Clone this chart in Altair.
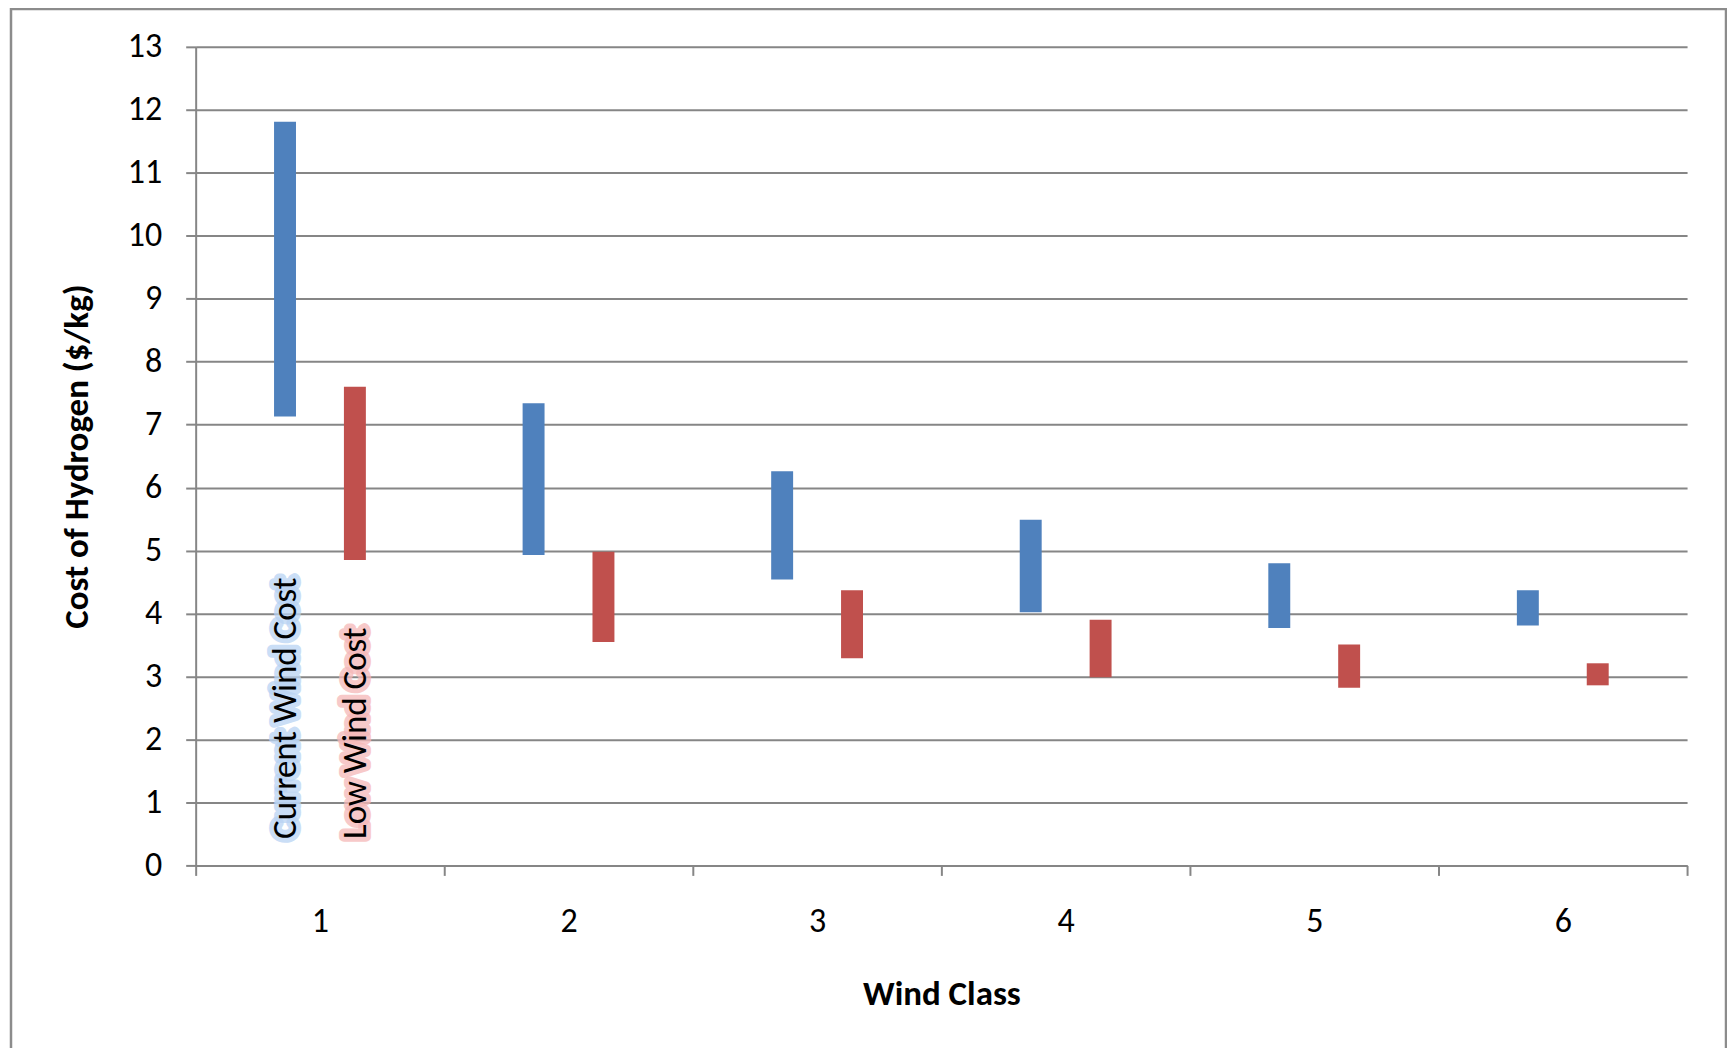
import altair as alt
import pandas as pd

# ---- data ----
wind_class = ["1", "2", "3", "4", "5", "6"]
current_low = [7.13, 4.93, 4.54, 4.02, 3.77, 3.81]
current_high = [11.81, 7.34, 6.26, 5.49, 4.80, 4.37]
lowcost_low = [4.85, 3.55, 3.29, 2.99, 2.82, 2.86]
lowcost_high = [7.60, 4.98, 4.37, 3.90, 3.51, 3.21]
series_names = ["Current Wind Cost", "Low Wind Cost"]
y_ticks = list(range(0, 14))
label_start = [0.42, 0.42]

# ---- styles ----
series_colors = ["#4F81BD", "#C0504D"]
glow_colors = ["#B9D3F3", "#F5B8B8"]
FONT = "Carlito, Lato, sans-serif"
GRAY = "#868686"
# empty slots on each side of the two series inside a class band (spacing only)
offset_slots = ["_left"] + series_names + ["_right"]

rows = []
for i, c in enumerate(wind_class):
    rows.append({"wclass": c, "series": series_names[0], "low": current_low[i], "high": current_high[i]})
    rows.append({"wclass": c, "series": series_names[1], "low": lowcost_low[i], "high": lowcost_high[i]})
df = pd.DataFrame(rows)

labels = pd.DataFrame({"wclass": [wind_class[0]] * 2, "series": series_names, "pos": label_start})

x_enc = alt.X(
    "wclass:N",
    scale=alt.Scale(domain=wind_class, paddingInner=0, paddingOuter=0),
    axis=alt.Axis(
        title="Wind Class", labelAngle=0, tickBand="extent",
        domainColor=GRAY, domainWidth=2, tickColor=GRAY, tickWidth=2, tickSize=10,
        labelFontSize=34, labelPadding=29, labelColor="#000000",
        titleFontSize=35, titleFontWeight="bold", titlePadding=38, titleColor="#000000",
        grid=False,
    ),
)
xoff_enc = alt.XOffset(
    "series:N",
    scale=alt.Scale(domain=offset_slots, paddingInner=0.686, paddingOuter=0.1215),
)
y_scale = alt.Scale(domain=[0, 13], nice=False, zero=True)
y_axis = alt.Axis(
    values=y_ticks, title="Cost of Hydrogen ($/kg)", format="d",
    grid=True, gridColor=GRAY, gridWidth=2,
    domainColor=GRAY, domainWidth=2, tickColor=GRAY, tickWidth=2, tickSize=10,
    labelFontSize=34, labelPadding=24, labelColor="#000000",
    titleFontSize=35, titleFontWeight="bold", titlePadding=33, titleColor="#000000",
)

frame = alt.Chart(alt.Data(values=[{"k": 1}])).mark_rect(
    fill="transparent", stroke="#8C8C8C", strokeWidth=2.5
).encode(
    x=alt.value(-185), x2=alt.value(1533), y=alt.value(-38), y2=alt.value(1300)
)

bars = alt.Chart(df).mark_bar().encode(
    x=x_enc,
    xOffset=xoff_enc,
    y=alt.Y("low:Q", scale=y_scale, axis=y_axis),
    y2="high:Q",
    color=alt.Color("series:N", scale=alt.Scale(domain=series_names, range=series_colors), legend=None),
)

glow = alt.Chart(labels).mark_text(
    angle=270, align="left", baseline="middle", fontSize=35, font=FONT,
    strokeWidth=10, strokeOpacity=0.75, strokeJoin="round", fillOpacity=0.75,
).encode(
    x=alt.X("wclass:N"),
    xOffset=alt.XOffset("series:N"),
    y=alt.Y("pos:Q"),
    text="series:N",
    stroke=alt.Stroke("series:N", scale=alt.Scale(domain=series_names, range=glow_colors), legend=None),
    fill=alt.Fill("series:N", scale=alt.Scale(domain=series_names, range=glow_colors), legend=None),
)

text = alt.Chart(labels).mark_text(
    angle=270, align="left", baseline="middle", fontSize=35, font=FONT, color="#000000",
).encode(
    x=alt.X("wclass:N"),
    xOffset=alt.XOffset("series:N"),
    y=alt.Y("pos:Q"),
    text="series:N",
)

chart = alt.layer(frame, bars, glow, text).resolve_scale(
    stroke="independent", fill="independent"
).properties(
    width=1494, height=820,
    autosize=alt.AutoSizeParams(type="none"),
    padding={"left": 188, "top": 38, "right": 40, "bottom": 182},
    background="#FFFFFF",
).configure_view(strokeOpacity=0).configure_axis(
    labelFont=FONT, titleFont=FONT
).configure_text(font=FONT)

chart.save("out.html", embed_options={"renderer": "svg", "actions": False})
